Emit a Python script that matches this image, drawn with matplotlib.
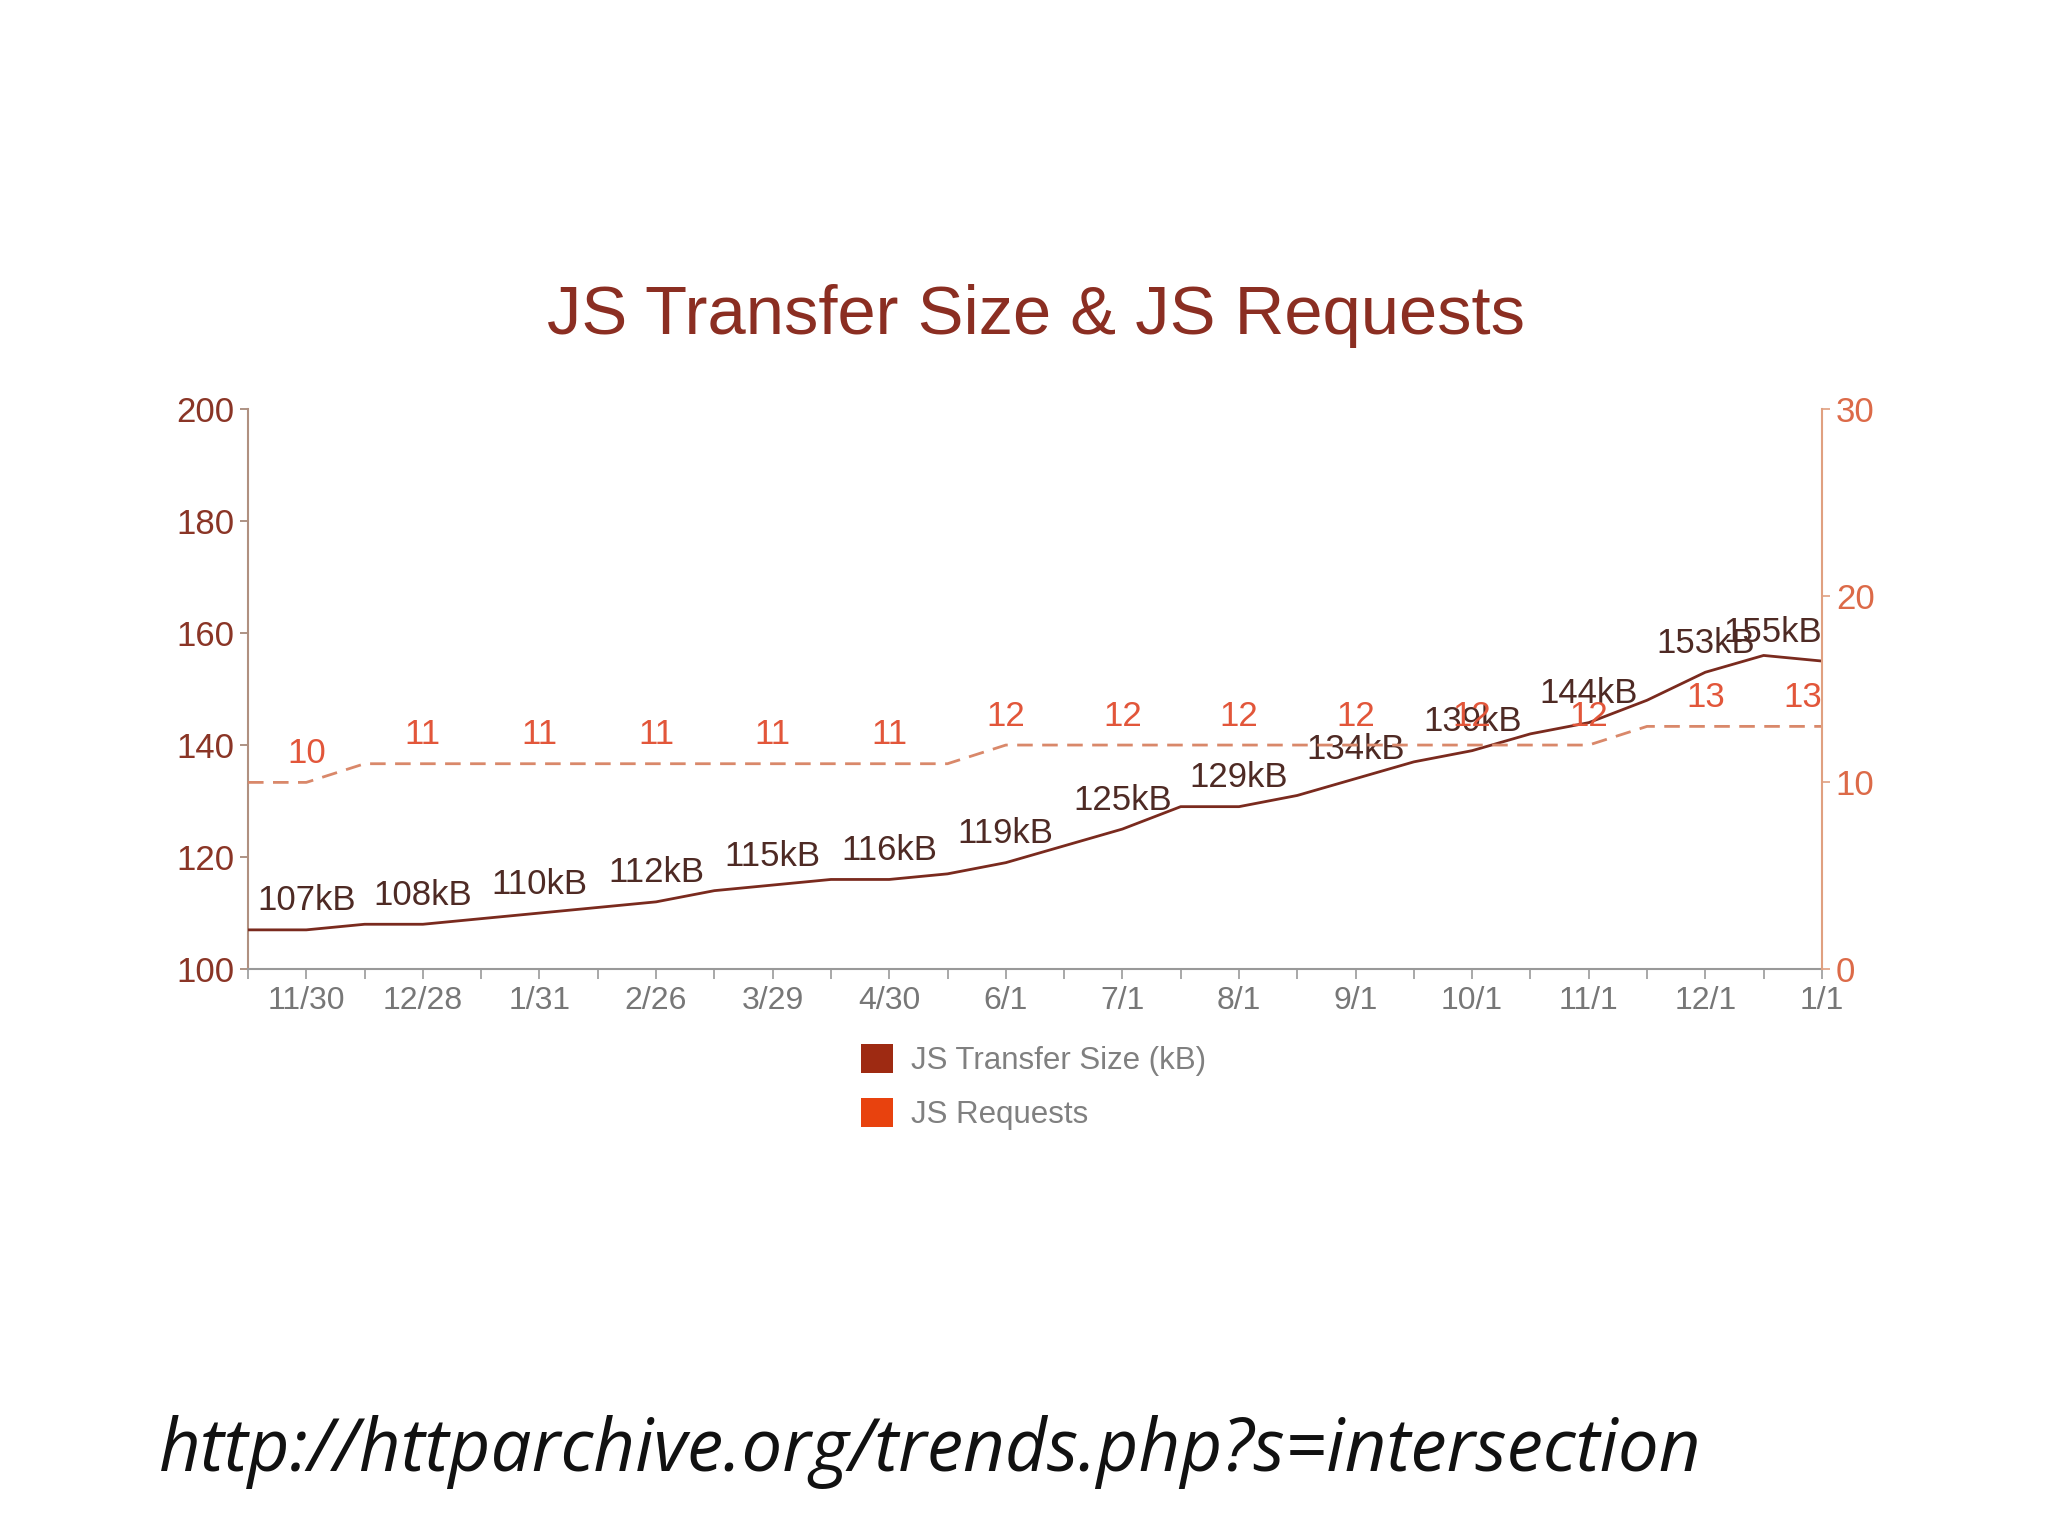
import matplotlib
matplotlib.use("Agg")
import matplotlib.pyplot as plt
from matplotlib.patches import Patch

plt.rcParams['font.family'] = ['Liberation Sans', 'DejaVu Sans']

# semi-monthly crawl dates, only the monthly ones get a tick label
dates = ['11/15', '11/30', '12/15', '12/28', '1/15', '1/31', '2/15', '2/26',
         '3/15', '3/29', '4/15', '4/30', '5/15', '6/1', '6/15', '7/1',
         '7/15', '8/1', '8/15', '9/1', '9/15', '10/1', '10/15', '11/1',
         '11/15', '12/1', '12/15', '1/1']
js_size = [107, 107, 108, 108, 109, 110, 111, 112, 114, 115, 116, 116, 117, 119,
           122, 125, 129, 129, 131, 134, 137, 139, 142, 144, 148, 153, 156, 155]
js_reqs = [10, 10, 11, 11, 11, 11, 11, 11, 11, 11, 11, 11, 11, 12,
           12, 12, 12, 12, 12, 12, 12, 12, 12, 12, 13, 13, 13, 13]

size_col = '#7a2a1e'
req_col = '#d9886a'
size_txt = '#4e2a24'
req_txt = '#e2563a'

fig = plt.figure(figsize=(20.48, 15.36), dpi=100)
ax = fig.add_axes([0.1211, 0.3691, 0.7685, 0.3646])
ax2 = ax.twinx()

x = list(range(len(dates)))
last = len(dates) - 1
ax.plot(x, js_size, color=size_col, lw=2.0, zorder=3)
ax2.plot(x, js_reqs, color=req_col, lw=2.0, dashes=(5.6, 3.4), zorder=2)

ax.set_xlim(0, last)
ax.set_ylim(100, 200)
ax2.set_ylim(0, 30)
ax.set_yticks([100, 120, 140, 160, 180, 200])
ax2.set_yticks([0, 10, 20, 30])

ax.set_xticks(x)
labels = [d if (i % 2 == 1 or i == last) else '' for i, d in enumerate(dates)]
ax.set_xticklabels(labels)

ax.tick_params(axis='x', colors='#999999', labelcolor='#777777', labelsize=23,
               length=7, width=1.2, pad=5)
ax.tick_params(axis='y', colors='#a08070', labelcolor='#8a3526', labelsize=25,
               length=6, width=1.2, pad=4)
ax2.tick_params(axis='y', colors='#e0a080', labelcolor='#dc6a48', labelsize=25,
                length=6, width=1.2, pad=4)

for a in (ax, ax2):
    a.spines['top'].set_visible(False)
ax.spines['left'].set_color('#b09080')
ax.spines['bottom'].set_color('#999999')
ax.spines['right'].set_visible(False)
ax2.spines['left'].set_visible(False)
ax2.spines['bottom'].set_visible(False)
ax2.spines['right'].set_color('#e0a080')
for sp in ('left', 'bottom'):
    ax.spines[sp].set_linewidth(1.5)
ax2.spines['right'].set_linewidth(1.5)

# value labels on the monthly points
for i in x:
    if i % 2 == 0 and i != last:
        continue
    ha = 'right' if i == last else 'center'
    ax.annotate(f'{js_size[i]}kB', (i, js_size[i]), xytext=(0, 9),
                textcoords='offset points', ha=ha, va='bottom',
                fontsize=25, color=size_txt, zorder=5)
    ax2.annotate(f'{js_reqs[i]}', (i, js_reqs[i]), xytext=(0, 9),
                 textcoords='offset points', ha=ha, va='bottom',
                 fontsize=25, color=req_txt, zorder=5)

fig.text(0.506, 1 - 316 / 1536, 'JS Transfer Size & JS Requests',
         ha='center', va='center', fontsize=49.5, color='#8b2e22')

handles = [Patch(facecolor='#9e2a12', edgecolor='none'),
           Patch(facecolor='#e8420e', edgecolor='none')]
fig.legend(handles, ['JS Transfer Size (kB)', 'JS Requests'],
           loc='upper left', bbox_to_anchor=(845 / 2048, 1 - 1028 / 1536),
           frameon=False, fontsize=22.5, handlelength=1.05, handleheight=1.05,
           handletextpad=0.55, labelspacing=0.7, borderpad=0,
           labelcolor='#808080')

fig.text(159 / 2048, 1 - 1452 / 1536,
         'http://httparchive.org/trends.php?s=intersection',
         ha='left', va='center', fontsize=52.3, style='italic',
         family='Open Sans', color='#111111')

fig.savefig('out.png', dpi=100, facecolor='white')
